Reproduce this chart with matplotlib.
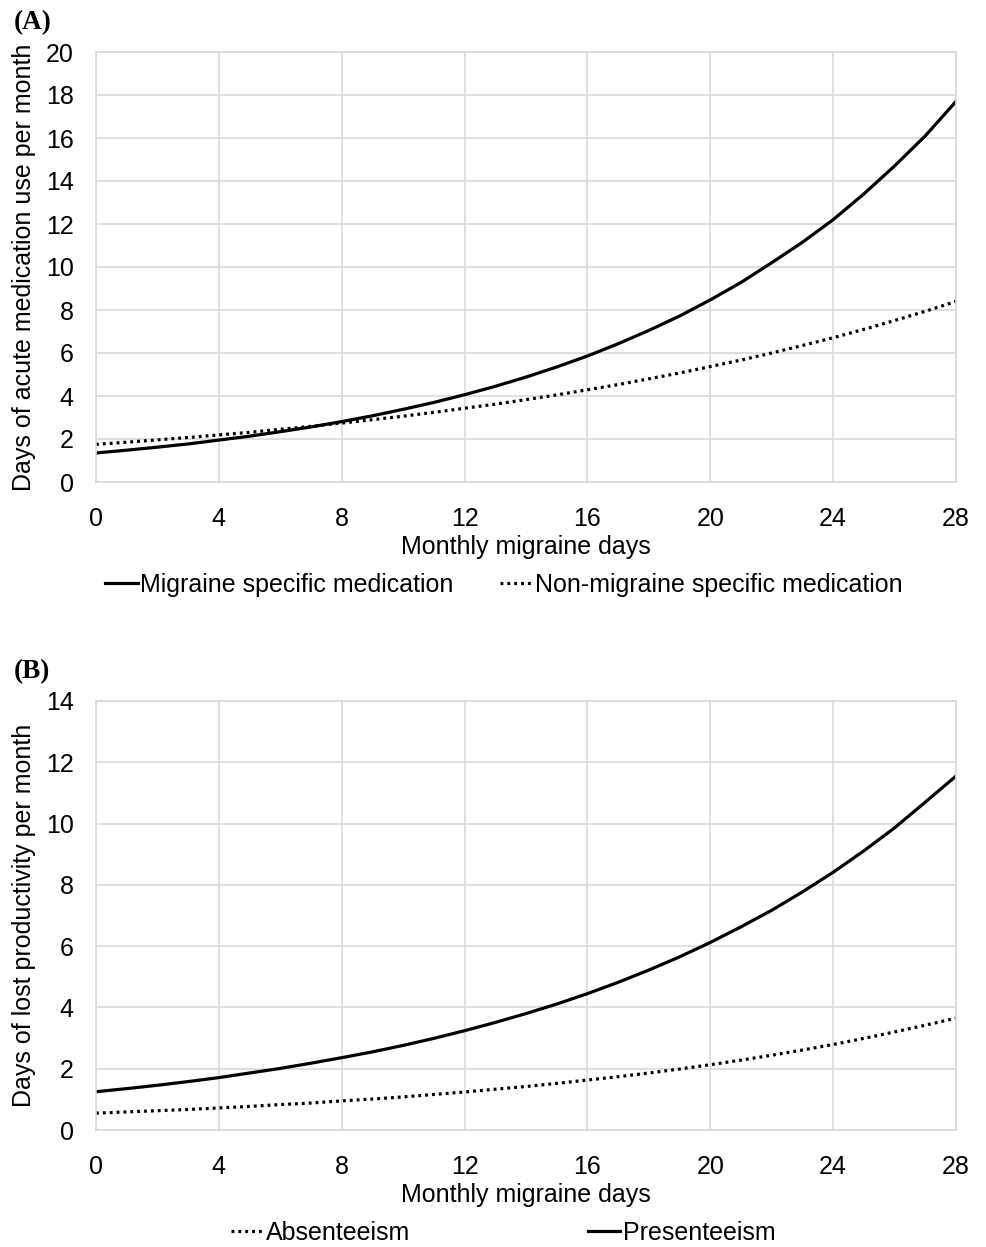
import numpy as np
import matplotlib
matplotlib.use("Agg")
import matplotlib.pyplot as plt
from matplotlib.lines import Line2D

plt.rcParams['font.family'] = ['Liberation Sans', 'DejaVu Sans']

# monthly migraine days
mmd = list(range(0, 29))

# panel A: days of acute medication use per month
msm = [1.35, 1.48, 1.62, 1.77, 1.95, 2.13, 2.34, 2.56, 2.81, 3.08, 3.38, 3.70, 4.06, 4.45, 4.88,
       5.35, 5.86, 6.43, 7.05, 7.72, 8.47, 9.28, 10.2, 11.15, 12.2, 13.4, 14.7, 16.1, 17.7]
nonmsm = [1.75, 1.85, 1.96, 2.07, 2.19, 2.31, 2.45, 2.59, 2.74, 2.90, 3.06, 3.24, 3.43, 3.62, 3.83,
          4.05, 4.29, 4.53, 4.80, 5.07, 5.37, 5.67, 6.00, 6.35, 6.71, 7.10, 7.51, 7.94, 8.40]

# panel B: days of lost productivity per month
absent = [0.55, 0.59, 0.63, 0.67, 0.72, 0.77, 0.83, 0.88, 0.95, 1.01, 1.08, 1.16, 1.24, 1.33, 1.42,
          1.52, 1.63, 1.74, 1.86, 1.99, 2.13, 2.28, 2.44, 2.61, 2.79, 2.99, 3.20, 3.42, 3.65]
present = [1.25, 1.35, 1.46, 1.58, 1.71, 1.86, 2.01, 2.18, 2.36, 2.55, 2.76, 2.99, 3.24, 3.51, 3.80,
           4.11, 4.45, 4.82, 5.22, 5.65, 6.12, 6.63, 7.17, 7.77, 8.41, 9.11, 9.86, 10.7, 11.55]

xticks = [0, 4, 8, 12, 16, 20, 24, 28]

W, H = 986, 1247
fig = plt.figure(figsize=(W/100, H/100), dpi=100)

grid_c = '#d9d9d9'
fs = 18
lw = 2.3
dot = (0, (0.9, 1.25))

def setup(ax, ymax, ystep, ylabel):
    ax.set_xlim(0, 28)
    ax.set_ylim(0, ymax)
    ax.set_xticks(xticks)
    ax.set_yticks(np.arange(0, ymax + 0.1, ystep))
    ax.grid(True, color=grid_c, lw=1.2)
    ax.set_axisbelow(True)
    for s in ax.spines.values():
        s.set_color(grid_c)
        s.set_linewidth(1.2)
    ax.tick_params(length=0, labelsize=fs)
    ax.tick_params(axis='x', pad=18)
    ax.tick_params(axis='y', pad=16)
    ax.set_xlabel('Monthly migraine days', fontsize=fs, labelpad=3)
    ax.set_ylabel(ylabel, fontsize=fs, labelpad=7)

def px(l, t, r, b):
    return [l/W, 1 - b/H, (r - l)/W, (b - t)/H]

# ---- panel A
ax1 = fig.add_axes(px(96, 52, 956, 482))
ax1.plot(mmd, msm, color='black', lw=lw)
ax1.plot(mmd, nonmsm, color='black', lw=lw, ls=dot)
setup(ax1, 20, 2, 'Days of acute medication use per month')
fig.text(14/W, 1 - 23/H, '(A)', fontsize=19.5, fontweight='bold',
         family='Liberation Serif', va='center', ha='left')

hA = [Line2D([], [], color='black', lw=lw),
      Line2D([], [], color='black', lw=lw, ls=dot)]
fig.legend(hA, ['Migraine specific medication', 'Non-migraine specific medication'],
           loc='center', bbox_to_anchor=(504/W, 1 - 585/H), ncol=2, frameon=False,
           fontsize=fs, handlelength=1.3, handletextpad=0.1, columnspacing=1.85)

# ---- panel B
ax2 = fig.add_axes(px(96, 701, 956, 1130))
ax2.plot(mmd, present, color='black', lw=lw)
ax2.plot(mmd, absent, color='black', lw=lw, ls=dot)
setup(ax2, 14, 2, 'Days of lost productivity per month')
fig.text(14/W, 1 - 672/H, '(B)', fontsize=19.5, fontweight='bold',
         family='Liberation Serif', va='center', ha='left')

hB = [Line2D([], [], color='black', lw=lw, ls=dot),
      Line2D([], [], color='black', lw=lw)]
fig.legend(hB, ['Absenteeism', 'Presenteeism'],
           loc='center', bbox_to_anchor=(503/W, 1 - 1233/H), ncol=2, frameon=False,
           fontsize=fs, handlelength=1.3, handletextpad=0.1, columnspacing=7.1)

fig.savefig('out.png', dpi=100)
